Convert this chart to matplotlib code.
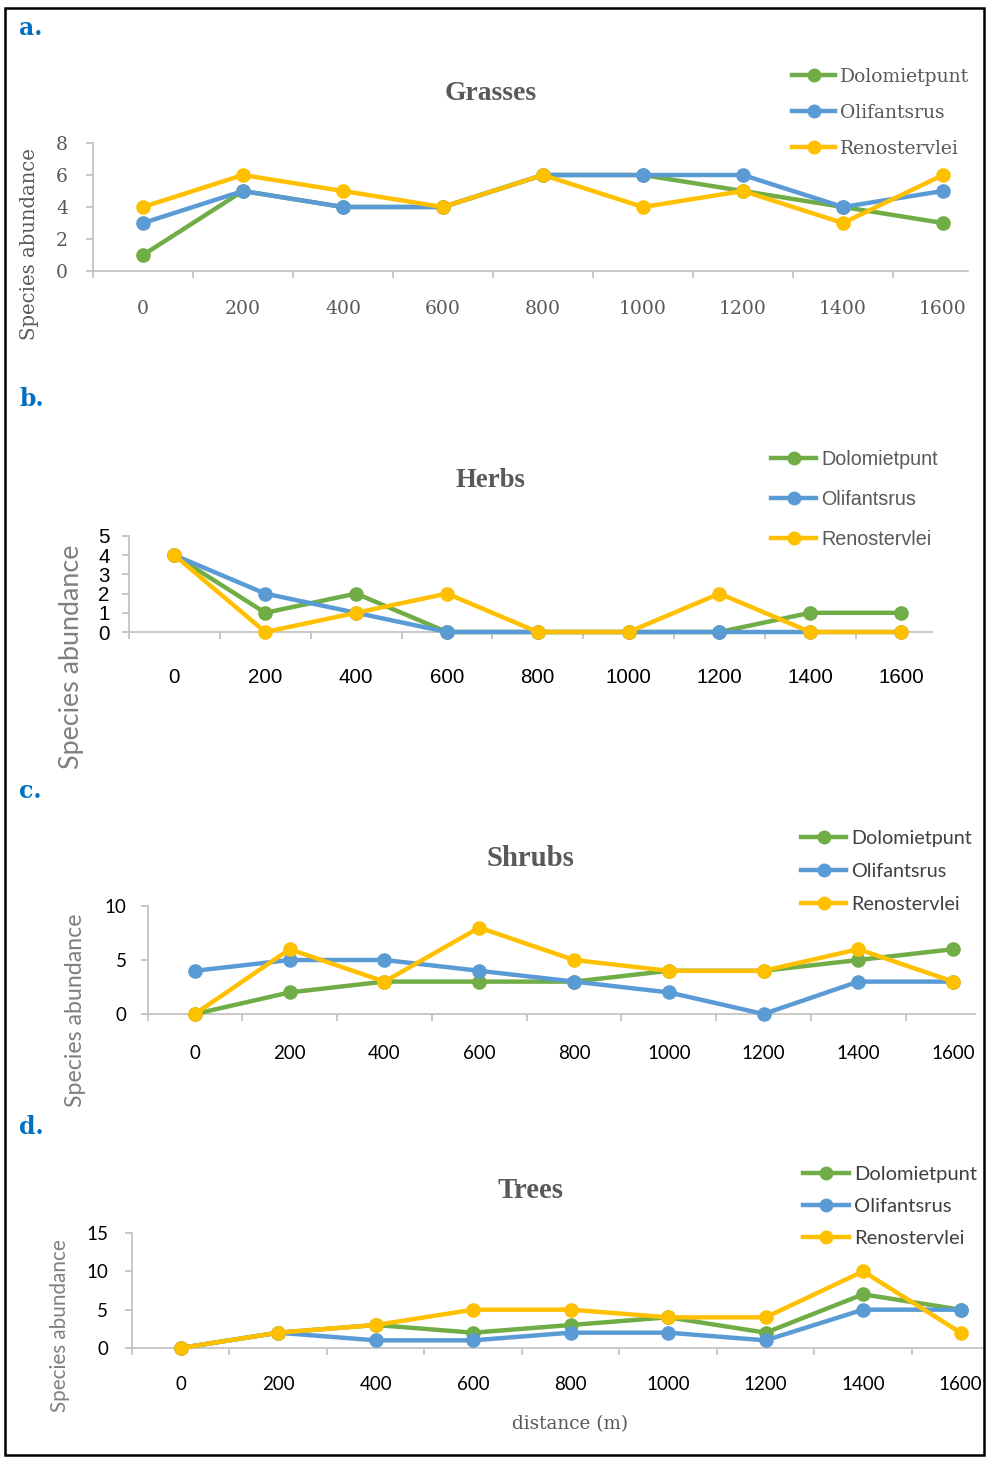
import matplotlib
matplotlib.use('Agg')
import matplotlib.pyplot as plt
from matplotlib.patches import Rectangle
import numpy as np

W, H = 986, 1458

distances = ['0', '200', '400', '600', '800', '1000', '1200', '1400', '1600']
sites = ['Dolomietpunt', 'Olifantsrus', 'Renostervlei']
site_colors = ['#70AD47', '#5B9BD5', '#FFC000']

grasses_dolomietpunt = [1, 5, 4, 4, 6, 6, 5, 4, 3]
grasses_olifantsrus = [3, 5, 4, 4, 6, 6, 6, 4, 5]
grasses_renostervlei = [4, 6, 5, 4, 6, 4, 5, 3, 6]

herbs_dolomietpunt = [4, 1, 2, 0, 0, 0, 0, 1, 1]
herbs_olifantsrus = [4, 2, 1, 0, 0, 0, 0, 0, 0]
herbs_renostervlei = [4, 0, 1, 2, 0, 0, 2, 0, 0]

shrubs_dolomietpunt = [0, 2, 3, 3, 3, 4, 4, 5, 6]
shrubs_olifantsrus = [4, 5, 5, 4, 3, 2, 0, 3, 3]
shrubs_renostervlei = [0, 6, 3, 8, 5, 4, 4, 6, 3]

trees_dolomietpunt = [0, 2, 3, 2, 3, 4, 2, 7, 5]
trees_olifantsrus = [0, 2, 1, 1, 2, 2, 1, 5, 5]
trees_renostervlei = [0, 2, 3, 5, 5, 4, 4, 10, 2]

fig = plt.figure(figsize=(W / 100, H / 100), dpi=100)

SERIF = ['DejaVu Serif']
TSERIF = ['Liberation Serif', 'DejaVu Serif']
NARROW = ['Liberation Sans', 'DejaVu Sans']
SANS = ['Lato', 'DejaVu Sans']


def ftxt(x, y, s, **kw):
    return fig.text(x / W, 1 - y / H, s, **kw)


fit_list = []

panels = [
    dict(letter='a.', lpos=(19, 28), title='Grasses', tpos=(491, 94), tw=92,
         data=[grasses_dolomietpunt, grasses_olifantsrus, grasses_renostervlei],
         ax=(93, 968, 143, 271), ymax=8, ystep=2, xr=8.25,
         tickfam=SERIF, ticksize=13.5, tickcol='#595959', xpad=21, ypad=13,
         ylab_fam=SERIF, ylab_col='#595959', ylab_pos=(30, 244), ylab_len=192,
         leg=(792, 68), legfam=SERIF, legsize=13.5, legcol='#595959', legspace=0.95),
    dict(letter='b.', lpos=(19, 399), title='Herbs', tpos=(490, 480), tw=70,
         data=[herbs_dolomietpunt, herbs_olifantsrus, herbs_renostervlei],
         ax=(129, 932, 536, 632), ymax=5, ystep=1, xr=8.34,
         tickfam=NARROW, ticksize=14.8, tickcol='black', xpad=26, ypad=9,
         ylab_fam=SANS, ylab_col='#7F7F7F', ylab_pos=(71, 657), ylab_len=225,
         leg=(771, 450), legfam=NARROW, legsize=14.2, legcol='#595959', legspace=1.07),
    dict(letter='c.', lpos=(19, 791), title='Shrubs', tpos=(530, 858), tw=88,
         data=[shrubs_dolomietpunt, shrubs_olifantsrus, shrubs_renostervlei],
         ax=(147.5, 975, 906, 1014), ymax=10, ystep=5, xr=8.23,
         tickfam=SANS, ticksize=13.5, tickcol='black', xpad=22, ypad=10,
         ylab_fam=SANS, ylab_col='#7F7F7F', ylab_pos=(75, 1010), ylab_len=194,
         leg=(801, 830), legfam=SANS, legsize=14.2, legcol='#404040', legspace=0.8),
    dict(letter='d.', lpos=(19, 1127), title='Trees', tpos=(531, 1190), tw=66,
         data=[trees_dolomietpunt, trees_olifantsrus, trees_renostervlei],
         ax=(132, 983, 1233, 1348), ymax=15, ystep=5, xr=8.23,
         tickfam=SANS, ticksize=13.5, tickcol='black', xpad=20, ypad=12,
         ylab_fam=SANS, ylab_col='#7F7F7F', ylab_pos=(60, 1326), ylab_len=173,
         leg=(803, 1166), legfam=SANS, legsize=14.5, legcol='#404040', legspace=0.74),
]

for p in panels:
    x0, x1, yt, yb = p['ax']
    ax = fig.add_axes([x0 / W, 1 - yb / H, (x1 - x0) / W, (yb - yt) / H])
    xs = np.arange(len(distances))
    handles = []
    for vals, c, lab in zip(p['data'], site_colors, sites):
        h, = ax.plot(xs, vals, color=c, lw=3.2, marker='o', ms=9.5, label=lab,
                     clip_on=False, solid_joinstyle='round', zorder=3)
        handles.append(h)
    ax.set_xlim(-0.5, p['xr'])
    ax.set_ylim(0, p['ymax'])
    for s in ['top', 'right']:
        ax.spines[s].set_visible(False)
    for s in ['left', 'bottom']:
        ax.spines[s].set_color('#BFBFBF')
        ax.spines[s].set_linewidth(1.2)
    ax.set_xticks(xs)
    ax.set_xticklabels(distances, family=p['tickfam'], fontsize=p['ticksize'], color=p['tickcol'])
    ax.tick_params(axis='x', which='major', length=0, pad=p['xpad'])
    ax.set_xticks(np.arange(-0.5, 8.5, 1.0), minor=True)
    ax.tick_params(axis='x', which='minor', length=5, width=1.2, color='#BFBFBF', direction='out')
    yt_vals = list(range(0, p['ymax'] + 1, p['ystep']))
    ax.set_yticks(yt_vals)
    ax.set_yticklabels([str(v) for v in yt_vals], family=p['tickfam'],
                       fontsize=p['ticksize'], color=p['tickcol'])
    ax.tick_params(axis='y', length=5, width=1.2, color='#BFBFBF', direction='out', pad=p['ypad'])
    ax.patch.set_alpha(0)

    ax.legend(handles=handles, loc='upper left',
              bbox_to_anchor=(p['leg'][0] / W, 1 - p['leg'][1] / H),
              bbox_transform=fig.transFigure, frameon=False,
              prop={'family': p['legfam'], 'size': p['legsize']},
              labelcolor=p['legcol'], handlelength=2.3, handletextpad=0.25,
              labelspacing=p['legspace'], borderpad=0, borderaxespad=0,
              markerscale=0.95)

    ftxt(p['lpos'][0], p['lpos'][1], p['letter'], family=['DejaVu Serif'],
         fontweight='bold', color='#0070C0', fontsize=17, ha='left', va='center')
    t = ftxt(p['tpos'][0], p['tpos'][1], p['title'], family=TSERIF, fontweight='bold',
             color='#595959', fontsize=16, ha='center', va='center')
    fit_list.append((t, p['tw'], 'w'))
    yl = ftxt(p['ylab_pos'][0], p['ylab_pos'][1], 'Species abundance', family=p['ylab_fam'],
              color=p['ylab_col'], fontsize=15, rotation=90, ha='center', va='center')
    fit_list.append((yl, p['ylab_len'], 'h'))

xl = ftxt(570, 1424, 'distance (m)', family=['DejaVu Serif'], color='#595959',
          fontsize=13, ha='center', va='center')
fit_list.append((xl, 116, 'w'))

fig.add_artist(Rectangle((5 / W, 3 / H), (984 - 5) / W, (1453 - 6) / H,
                         transform=fig.transFigure, fill=False, edgecolor='black',
                         linewidth=1.8))

fig.canvas.draw()
r = fig.canvas.get_renderer()
for t, target, mode in fit_list:
    bb = t.get_window_extent(r)
    cur = bb.width if mode == 'w' else bb.height
    t.set_fontsize(t.get_fontsize() * target / cur)

fig.savefig('out.png', dpi=100)
